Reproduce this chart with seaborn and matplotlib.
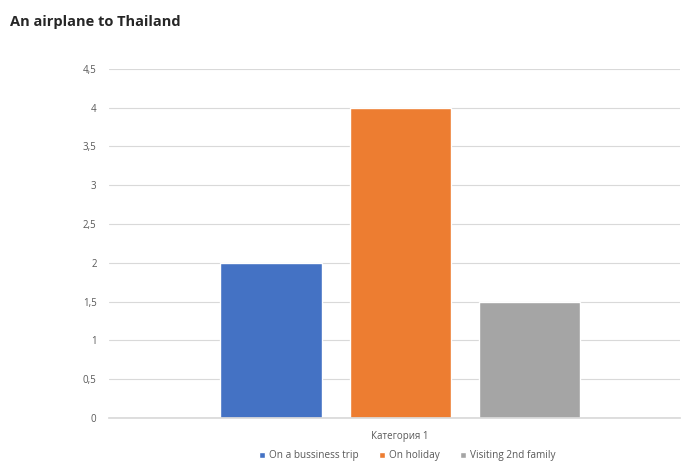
import matplotlib
matplotlib.use("Agg")
import matplotlib.pyplot as plt
import seaborn as sns
import pandas as pd
from matplotlib.ticker import FuncFormatter

categories = ["Категория 1"]
series = ["On a bussiness trip", "On holiday", "Visiting 2nd family"]
values = [2, 4, 1.5]
colors = ["#4472C4", "#ED7D31", "#A5A5A5"]
yticks = [0, 0.5, 1, 1.5, 2, 2.5, 3, 3.5, 4, 4.5]

df = pd.DataFrame({"cat": categories * len(series), "series": series, "value": values})

sns.set_theme(style="white")
plt.rcParams['font.family'] = ['Open Sans', 'DejaVu Sans']

fig = plt.figure(figsize=(6.82, 4.62), dpi=100)
ax = fig.add_axes([0.160, 0.095, 0.837, 0.756])

sns.barplot(data=df, x="cat", y="value", hue="series", palette=colors,
            width=0.679, gap=0.217, ax=ax, legend=False, saturation=1)

ax.set_xlim(-0.51, 0.49)
ax.set_ylim(0, 4.5)
ax.set_yticks(yticks)
ax.yaxis.set_major_formatter(FuncFormatter(lambda v, p: (f"{v:g}").replace(".", ",")))
ax.grid(axis="y", color="#D9D9D9", linewidth=0.8)
ax.set_axisbelow(True)
for s in ["top", "right", "left"]:
    ax.spines[s].set_visible(False)
ax.spines["bottom"].set_color("#D9D9D9")
ax.tick_params(axis="y", length=0, labelsize=7, labelcolor="#595959", pad=9)
ax.tick_params(axis="x", length=0, labelsize=7, labelcolor="#595959", pad=9)
ax.set_xlabel("")
ax.set_ylabel("")

fig.text(0.015, 0.952, "An airplane to Thailand", fontsize=10.5, fontweight="bold",
         color="#262626", va="center", ha="left")

from matplotlib.patches import Patch
handles = [Patch(facecolor=c, label=s) for c, s in zip(colors, series)]
fig.legend(handles=handles, loc="center", bbox_to_anchor=(0.597, 0.013), ncol=3,
           frameon=False, fontsize=7.2, handlelength=0.6, handleheight=0.6,
           handletextpad=0.4, columnspacing=2.0, labelcolor="#595959",
           borderpad=0.1)

fig.savefig("out.png", dpi=100)
